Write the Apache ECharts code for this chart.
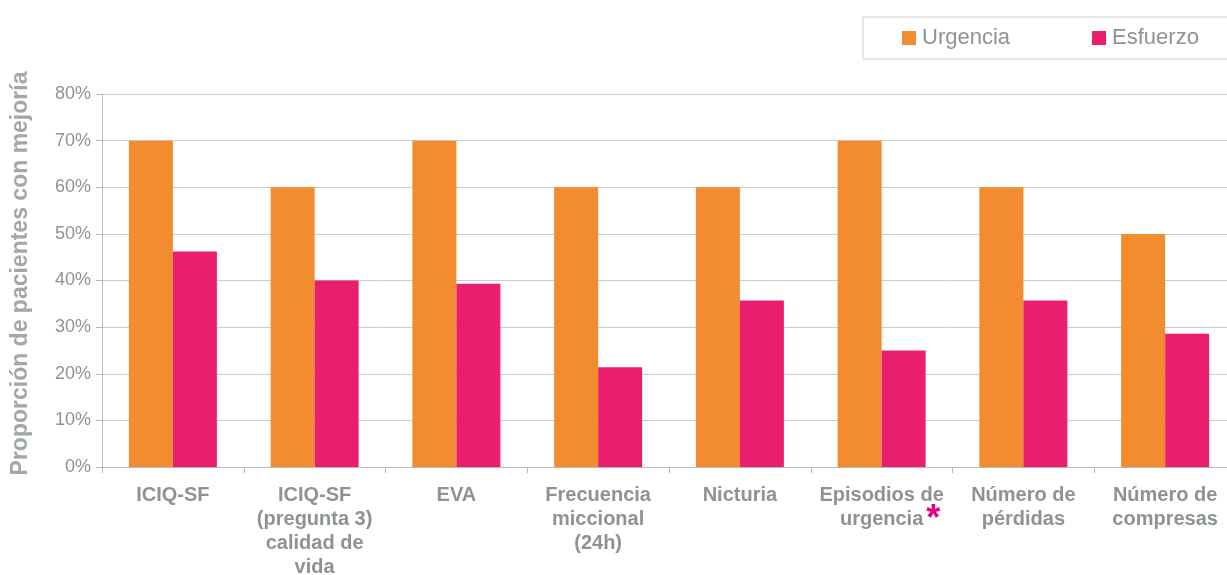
<!DOCTYPE html>
<html>
<head>
<meta charset="utf-8">
<script src="https://cdn.jsdelivr.net/npm/echarts@6/dist/echarts.min.js"></script>
<style>
  html, body { margin: 0; padding: 0; background: #fff; }
  #chart { width: 1227px; height: 575px; }
</style>
</head>
<body>
<div id="chart"></div>
<script>
// categorías del eje x
const categories = [
  'ICIQ-SF',
  'ICIQ-SF\n(pregunta 3)\ncalidad de\nvida',
  'EVA',
  'Frecuencia\nmiccional\n(24h)',
  'Nicturia',
  'Episodios de\n{pad|}urgencia{ast|*}',
  'Número de\npérdidas',
  'Número de\ncompresas'
]
// proporción de pacientes con mejoría (%)
const urgencia = [70, 60, 70, 60, 60, 70, 60, 50]
const esfuerzo = [46.2, 40, 39.3, 21.4, 35.7, 25, 35.7, 28.6]
const yTicks = [0, 10, 20, 30, 40, 50, 60, 70, 80]

const gray = '#8c9296'
const font = '"Liberation Sans", Arial, sans-serif'

const chart = echarts.init(document.getElementById('chart'))
chart.setOption({
  animation: false,
  textStyle: { fontFamily: font },
  legend: {
    orient: 'horizontal',
    left: 863,
    top: 17,
    width: 420,
    padding: [10, 40, 10, 39],
    borderColor: '#d0d0d0',
    borderWidth: 1,
    itemWidth: 14,
    itemHeight: 14,
    itemGap: 82,
    icon: 'rect',
    textStyle: { color: gray, fontSize: 22, fontFamily: font, padding: [0, 0, 0, 1] },
    data: ['Urgencia', 'Esfuerzo']
  },
  grid: {
    left: 102,
    right: -9,
    top: 94,
    bottom: 108,
    outerBoundsMode: 'none',
    containLabel: false
  },
  xAxis: {
    type: 'category',
    data: categories,
    axisLine: { lineStyle: { color: '#b8b8b8' } },
    axisTick: { show: true, length: 6, lineStyle: { color: '#b8b8b8' } },
    axisLabel: {
      interval: 0,
      margin: 16,
      color: gray,
      fontSize: 20,
      fontWeight: 'bold',
      lineHeight: 24,
      fontFamily: font,
      rich: {
        pad: { width: 17, lineHeight: 24 },
        ast: { color: '#e6007e', fontSize: 36, fontWeight: 'bold', lineHeight: 24, padding: [2, 0, 0, 3] }
      }
    }
  },
  yAxis: {
    type: 'value',
    min: yTicks[0],
    max: yTicks[yTicks.length - 1],
    interval: 10,
    name: 'Proporción de pacientes con mejoría',
    nameLocation: 'middle',
    nameGap: 70,
    nameTextStyle: { color: '#a2a7aa', fontSize: 23, fontWeight: 'bold', fontFamily: font, padding: [0, 0, 0, 14] },
    axisLine: { show: true, lineStyle: { color: '#b8b8b8' } },
    axisTick: { show: true, length: 6, lineStyle: { color: '#b8b8b8' } },
    axisLabel: {
      color: gray,
      fontSize: 18,
      margin: 11,
      fontFamily: font,
      formatter: v => v + '%'
    },
    splitLine: { lineStyle: { color: '#cccccc' } }
  },
  series: [
    {
      name: 'Urgencia',
      type: 'bar',
      data: urgencia,
      barWidth: 44,
      barGap: '0%',
      itemStyle: { color: '#f28c2e' }
    },
    {
      name: 'Esfuerzo',
      type: 'bar',
      data: esfuerzo,
      barWidth: 44,
      barGap: '0%',
      itemStyle: { color: '#e91e6e' }
    }
  ]
})
window.addEventListener('resize', () => chart.resize())
</script>
</body>
</html>
